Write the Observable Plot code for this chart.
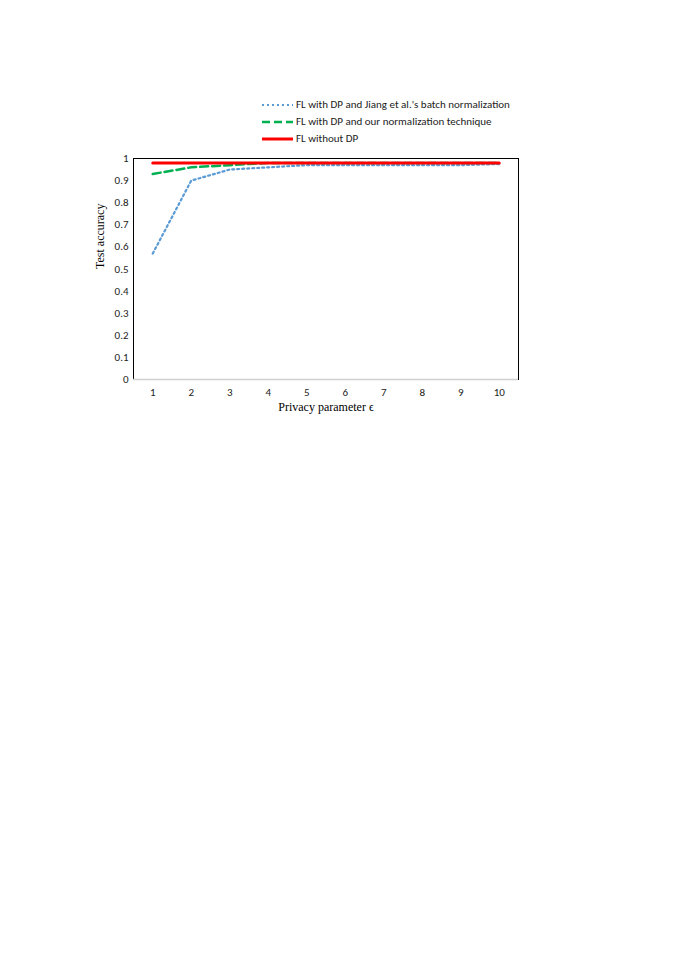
<!DOCTYPE html>
<html><head><meta charset="utf-8">
<script src="https://cdn.jsdelivr.net/npm/d3@7"></script>
<script src="https://cdn.jsdelivr.net/npm/@observablehq/plot@0.6"></script>
<style>
body{margin:0;background:#fff;width:676px;height:956px;position:relative;overflow:hidden}
#chart{position:absolute;left:0;top:0}
#legend{position:absolute;left:262px;top:96px;font-family:Carlito,Calibri,Lato,"Open Sans",sans-serif;font-size:11px;color:#222}
.item{display:flex;align-items:center;height:17px}
.item svg{margin-right:3px}
</style></head>
<body>
<div id="chart"></div>
<div id="legend"></div>
<script>
const epsilons = [1,2,3,4,5,6,7,8,9,10];
const jiang = [0.57,0.90,0.95,0.96,0.97,0.97,0.97,0.97,0.97,0.975];
const ours = [0.93,0.96,0.97,0.98,0.98,0.98,0.98,0.98,0.98,0.98];
const noDP = [0.98,0.98,0.98,0.98,0.98,0.98,0.98,0.98,0.98,0.98];
const seriesNames = ["FL with DP and Jiang et al.'s batch normalization","FL with DP and our normalization technique","FL without DP"];
const colors = ["#5B9BD5","#00B050","#FF0000"];
const dashes = ["2,3","8,4",null];
const widths = [2.2,2.5,3];
const yTicks = [0,0.1,0.2,0.3,0.4,0.5,0.6,0.7,0.8,0.9,1];

const all = [jiang, ours, noDP];
const marks = [
  Plot.frame({stroke:"#000", strokeWidth:1}),
  Plot.ruleY([0],{stroke:"#d0d0d0", strokeWidth:1.5}),
  Plot.axisY({ticks:yTicks, tickSize:0, tickPadding:5, tickFormat:d=>String(d), fontSize:11, label:null}),
  Plot.axisX({ticks:epsilons, tickSize:0, tickPadding:9, fontSize:11, label:null}),
];
[0,1,2].forEach(i=>{
  marks.push(Plot.line(epsilons.map((e,j)=>({x:e,y:all[i][j]})),{x:"x",y:"y",stroke:colors[i],strokeWidth:widths[i],strokeDasharray:dashes[i]}));
});
const chart = Plot.plot({
  width:676, height:420,
  marginLeft:133, marginRight:158, marginTop:158, marginBottom:41,
  style:{fontFamily:"Carlito,Calibri,Lato,'Open Sans',sans-serif", fontSize:"11px", color:"#222"},
  x:{domain:[0.5,10.5]},
  y:{domain:[0,1]},
  marks:[
    ...marks,
    Plot.text(["Privacy parameter \u03F5"],{frameAnchor:"bottom", dy:31, fontFamily:"Liberation Serif,Times New Roman,serif", fontSize:12, fill:"#000"}),
    Plot.text(["Test accuracy"],{frameAnchor:"left", dx:-33, rotate:-90, fontFamily:"Liberation Serif,Times New Roman,serif", fontSize:12, fill:"#000"})
  ]
});
document.getElementById("chart").appendChild(chart);

const leg = document.getElementById("legend");
seriesNames.forEach((n,i)=>{
  const d = document.createElement("div"); d.className="item";
  d.innerHTML = `<svg width="31" height="6"><line x1="0" y1="3" x2="31" y2="3" stroke="${colors[i]}" stroke-width="${widths[i]}" ${dashes[i]?`stroke-dasharray="${dashes[i]}"`:""}/></svg><span>${n}</span>`;
  leg.appendChild(d);
});
</script>
</body></html>
